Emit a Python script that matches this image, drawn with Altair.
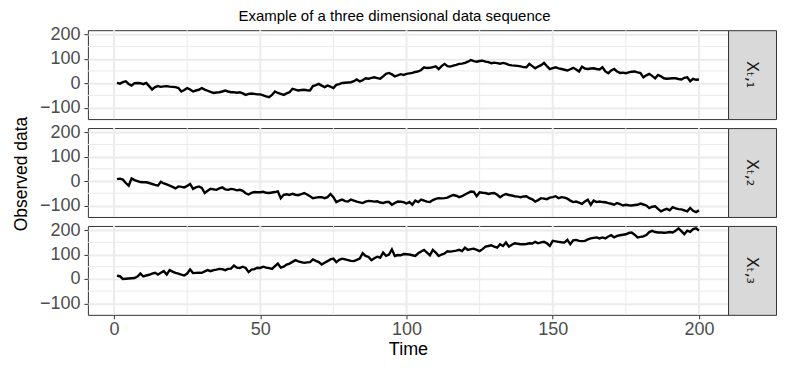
import altair as alt
import pandas as pd

time = list(range(1, 201))

x1 = [1, -2, 4, 8, -3, -10, 0, 1, 0, -4,
      1, -12, -26, -16, -12, -15, -13, -12, -14, -15,
      -16, -20, -34, -28, -20, -26, -34, -30, -27, -20,
      -26, -31, -36, -40, -38, -37, -34, -30, -34, -37,
      -37, -39, -37, -42, -48, -44, -42, -44, -46, -46,
      -50, -54, -57, -48, -34, -40, -44, -48, -42, -37,
      -23, -26, -30, -28, -27, -29, -30, -12, -8, -3,
      -10, -16, -10, -14, -20, -7, -4, 1, 2, 3,
      4, 8, 15, 7, 12, 20, 18, 22, 24, 21,
      18, 28, 38, 42, 36, 28, 32, 37, 34, 38,
      40, 42, 46, 48, 54, 65, 62, 63, 66, 69,
      58, 70, 79, 70, 68, 72, 75, 79, 80, 83,
      88, 95, 90, 88, 91, 92, 88, 86, 82, 84,
      82, 80, 83, 80, 75, 73, 72, 71, 69, 66,
      65, 79, 70, 61, 68, 74, 83, 70, 58, 62,
      65, 61, 58, 55, 52, 57, 63, 56, 48, 68,
      60, 58, 60, 61, 58, 56, 65, 48, 41, 52,
      58, 48, 42, 43, 41, 44, 47, 48, 44, 41,
      24, 32, 38, 30, 20, 34, 28, 20, 18, 19,
      20, 20, 17, 15, 22, 24, 8, 18, 14, 15]

x2 = [8, 10, 6, -8, -19, 11, 4, 0, -4, -5,
      -5, -8, -12, -16, -19, -3, -10, -14, -19, -24,
      -30, -22, -24, -26, -20, -12, -32, -26, -22, -28,
      -49, -40, -32, -34, -36, -30, -26, -34, -36, -32,
      -34, -38, -36, -40, -50, -55, -48, -45, -46, -46,
      -44, -48, -49, -47, -45, -42, -70, -56, -54, -57,
      -52, -56, -58, -54, -49, -55, -62, -70, -68, -66,
      -66, -70, -66, -53, -66, -86, -80, -76, -82, -84,
      -76, -80, -84, -87, -90, -84, -81, -82, -84, -83,
      -88, -90, -86, -86, -97, -90, -84, -85, -86, -92,
      -86, -97, -80, -86, -76, -80, -84, -86, -78, -73,
      -70, -71, -70, -68, -62, -57, -60, -66, -62, -55,
      -49, -43, -44, -62, -46, -48, -49, -53, -50, -49,
      -56, -66, -58, -53, -57, -59, -62, -64, -66, -63,
      -62, -70, -75, -84, -78, -70, -72, -74, -68, -66,
      -62, -70, -66, -68, -72, -80, -86, -84, -88, -93,
      -84, -76, -97, -80, -86, -84, -86, -87, -90, -93,
      -97, -90, -94, -100, -97, -99, -100, -98, -97, -92,
      -96, -100, -111, -105, -103, -114, -124, -118, -114, -120,
      -107, -112, -115, -116, -120, -124, -110, -122, -127, -120]

x3 = [13, 11, 0, 1, 2, 3, 4, 10, 22, 10,
      14, 17, 22, 25, 18, 25, 32, 18, 36, 30,
      25, 22, 18, 14, 22, 39, 24, 25, 26, 25,
      31, 36, 32, 36, 38, 41, 40, 36, 41, 42,
      55, 46, 45, 50, 45, 28, 38, 40, 46, 45,
      50, 46, 44, 41, 52, 63, 46, 50, 59, 63,
      70, 77, 72, 69, 66, 68, 69, 80, 74, 69,
      59, 66, 73, 80, 83, 69, 78, 83, 80, 77,
      74, 73, 78, 83, 105, 94, 90, 77, 85, 91,
      87, 108, 95, 100, 121, 94, 98, 97, 102, 101,
      100, 97, 94, 105, 112, 119, 108, 97, 119, 108,
      94, 100, 104, 113, 112, 114, 116, 119, 114, 128,
      119, 122, 124, 119, 114, 122, 132, 135, 138, 132,
      128, 142, 135, 149, 132, 140, 146, 144, 142, 142,
      143, 146, 145, 152, 146, 150, 152, 146, 135, 156,
      154, 152, 150, 149, 160, 142, 158, 160, 156, 155,
      156, 162, 166, 168, 170, 166, 170, 166, 174, 179,
      170, 176, 179, 181, 183, 188, 190, 181, 170, 172,
      174, 180, 192, 197, 192, 190, 190, 189, 190, 192,
      190, 197, 207, 196, 183, 198, 193, 204, 207, 198]

series = [x1, x2, x3]
strip_labels = ["Xₜ‚₁", "Xₜ‚₂", "Xₜ‚₃"]
x_major = [0, 50, 100, 150, 200]
x_minor = [25, 75, 125, 175]
y_major = [-100, 0, 100, 200]
y_minor = [-50, 50, 150]

W, H = 641, 89
STRIP_W = 48
ROW_SP = 1
FONT = "Liberation Sans"
GRID = "#EBEBEB"

x_scale = alt.Scale(domain=[-8.95, 209.95], nice=False, zero=False)
y_scale = alt.Scale(domain=[-147, 217], nice=False, zero=False)


def panel(values, bottom):
    df = pd.DataFrame({"Time": time, "value": values})

    if bottom:
        x_axis = alt.Axis(
            values=x_major, grid=False, domain=False, tickColor="#333333",
            tickSize=4, labelFontSize=18, labelFont=FONT, labelColor="#4D4D4D",
            labelPadding=2, title="Time", titleFontSize=18, titleFont=FONT,
            titleFontWeight="normal", titleColor="black", titlePadding=2,
        )
    else:
        x_axis = None

    y_axis = alt.Axis(
        values=y_major, grid=True, gridColor=GRID, gridWidth=2, domain=False,
        tickColor="#333333", tickSize=4, labelFontSize=18, labelFont=FONT,
        labelColor="#4D4D4D", labelPadding=4,
        labelExpr="replace(datum.label, '-', '−')", title=None,
    )

    vminor = alt.Chart(pd.DataFrame({"t": x_minor})).mark_rule(
        color=GRID, strokeWidth=1
    ).encode(x=alt.X("t:Q", scale=x_scale, axis=x_axis))
    vmajor = alt.Chart(pd.DataFrame({"t": x_major})).mark_rule(
        color=GRID, strokeWidth=2
    ).encode(x=alt.X("t:Q", scale=x_scale, axis=x_axis))
    hminor = alt.Chart(pd.DataFrame({"v": y_minor})).mark_rule(
        color=GRID, strokeWidth=1
    ).encode(y=alt.Y("v:Q", scale=y_scale, axis=y_axis))

    line = alt.Chart(df).mark_line(color="black", strokeWidth=2.4).encode(
        x=alt.X("Time:Q", scale=x_scale, axis=x_axis),
        y=alt.Y("value:Q", scale=y_scale, axis=y_axis),
    )
    return alt.layer(hminor, vminor, vmajor, line).properties(width=W, height=H)


def strip(idx):
    sdf = pd.DataFrame({"label": [strip_labels[idx]]})
    return alt.Chart(sdf).mark_text(
        angle=90, fontSize=16, font="DejaVu Sans", color="#1A1A1A"
    ).encode(
        x=alt.value(STRIP_W / 2), y=alt.value(H / 2), text="label:N"
    ).properties(
        width=STRIP_W, height=H,
        view=alt.ViewBackground(fill="#D9D9D9", stroke="#333333", strokeWidth=1),
    )


rows = []
for i, vals in enumerate(series):
    rows.append(
        alt.hconcat(panel(vals, i == 2), strip(i), spacing=0, bounds="flush")
    )
inner = alt.vconcat(*rows, spacing=ROW_SP)

YLAB_H = 290
ylab = alt.Chart(pd.DataFrame({"t": ["Observed data"]})).mark_text(
    angle=270, fontSize=17.5, font=FONT, color="black",
    align="center", baseline="middle",
).encode(
    x=alt.value(9), y=alt.value(144), text="t:N"
).properties(
    width=18, height=YLAB_H,
    view=alt.ViewBackground(stroke="transparent"),
)

chart = alt.hconcat(ylab, inner, spacing=6).properties(
    title=alt.TitleParams(
        "Example of a three dimensional data sequence", fontSize=15, font=FONT,
        fontWeight="normal", anchor="middle", color="black", offset=1,
    ),
    padding={"left": 4, "top": 0, "right": 0, "bottom": 0},
).configure_view(stroke="#333333", strokeWidth=1)

chart.save("out.html", embed_options={"renderer": "svg", "actions": False})
